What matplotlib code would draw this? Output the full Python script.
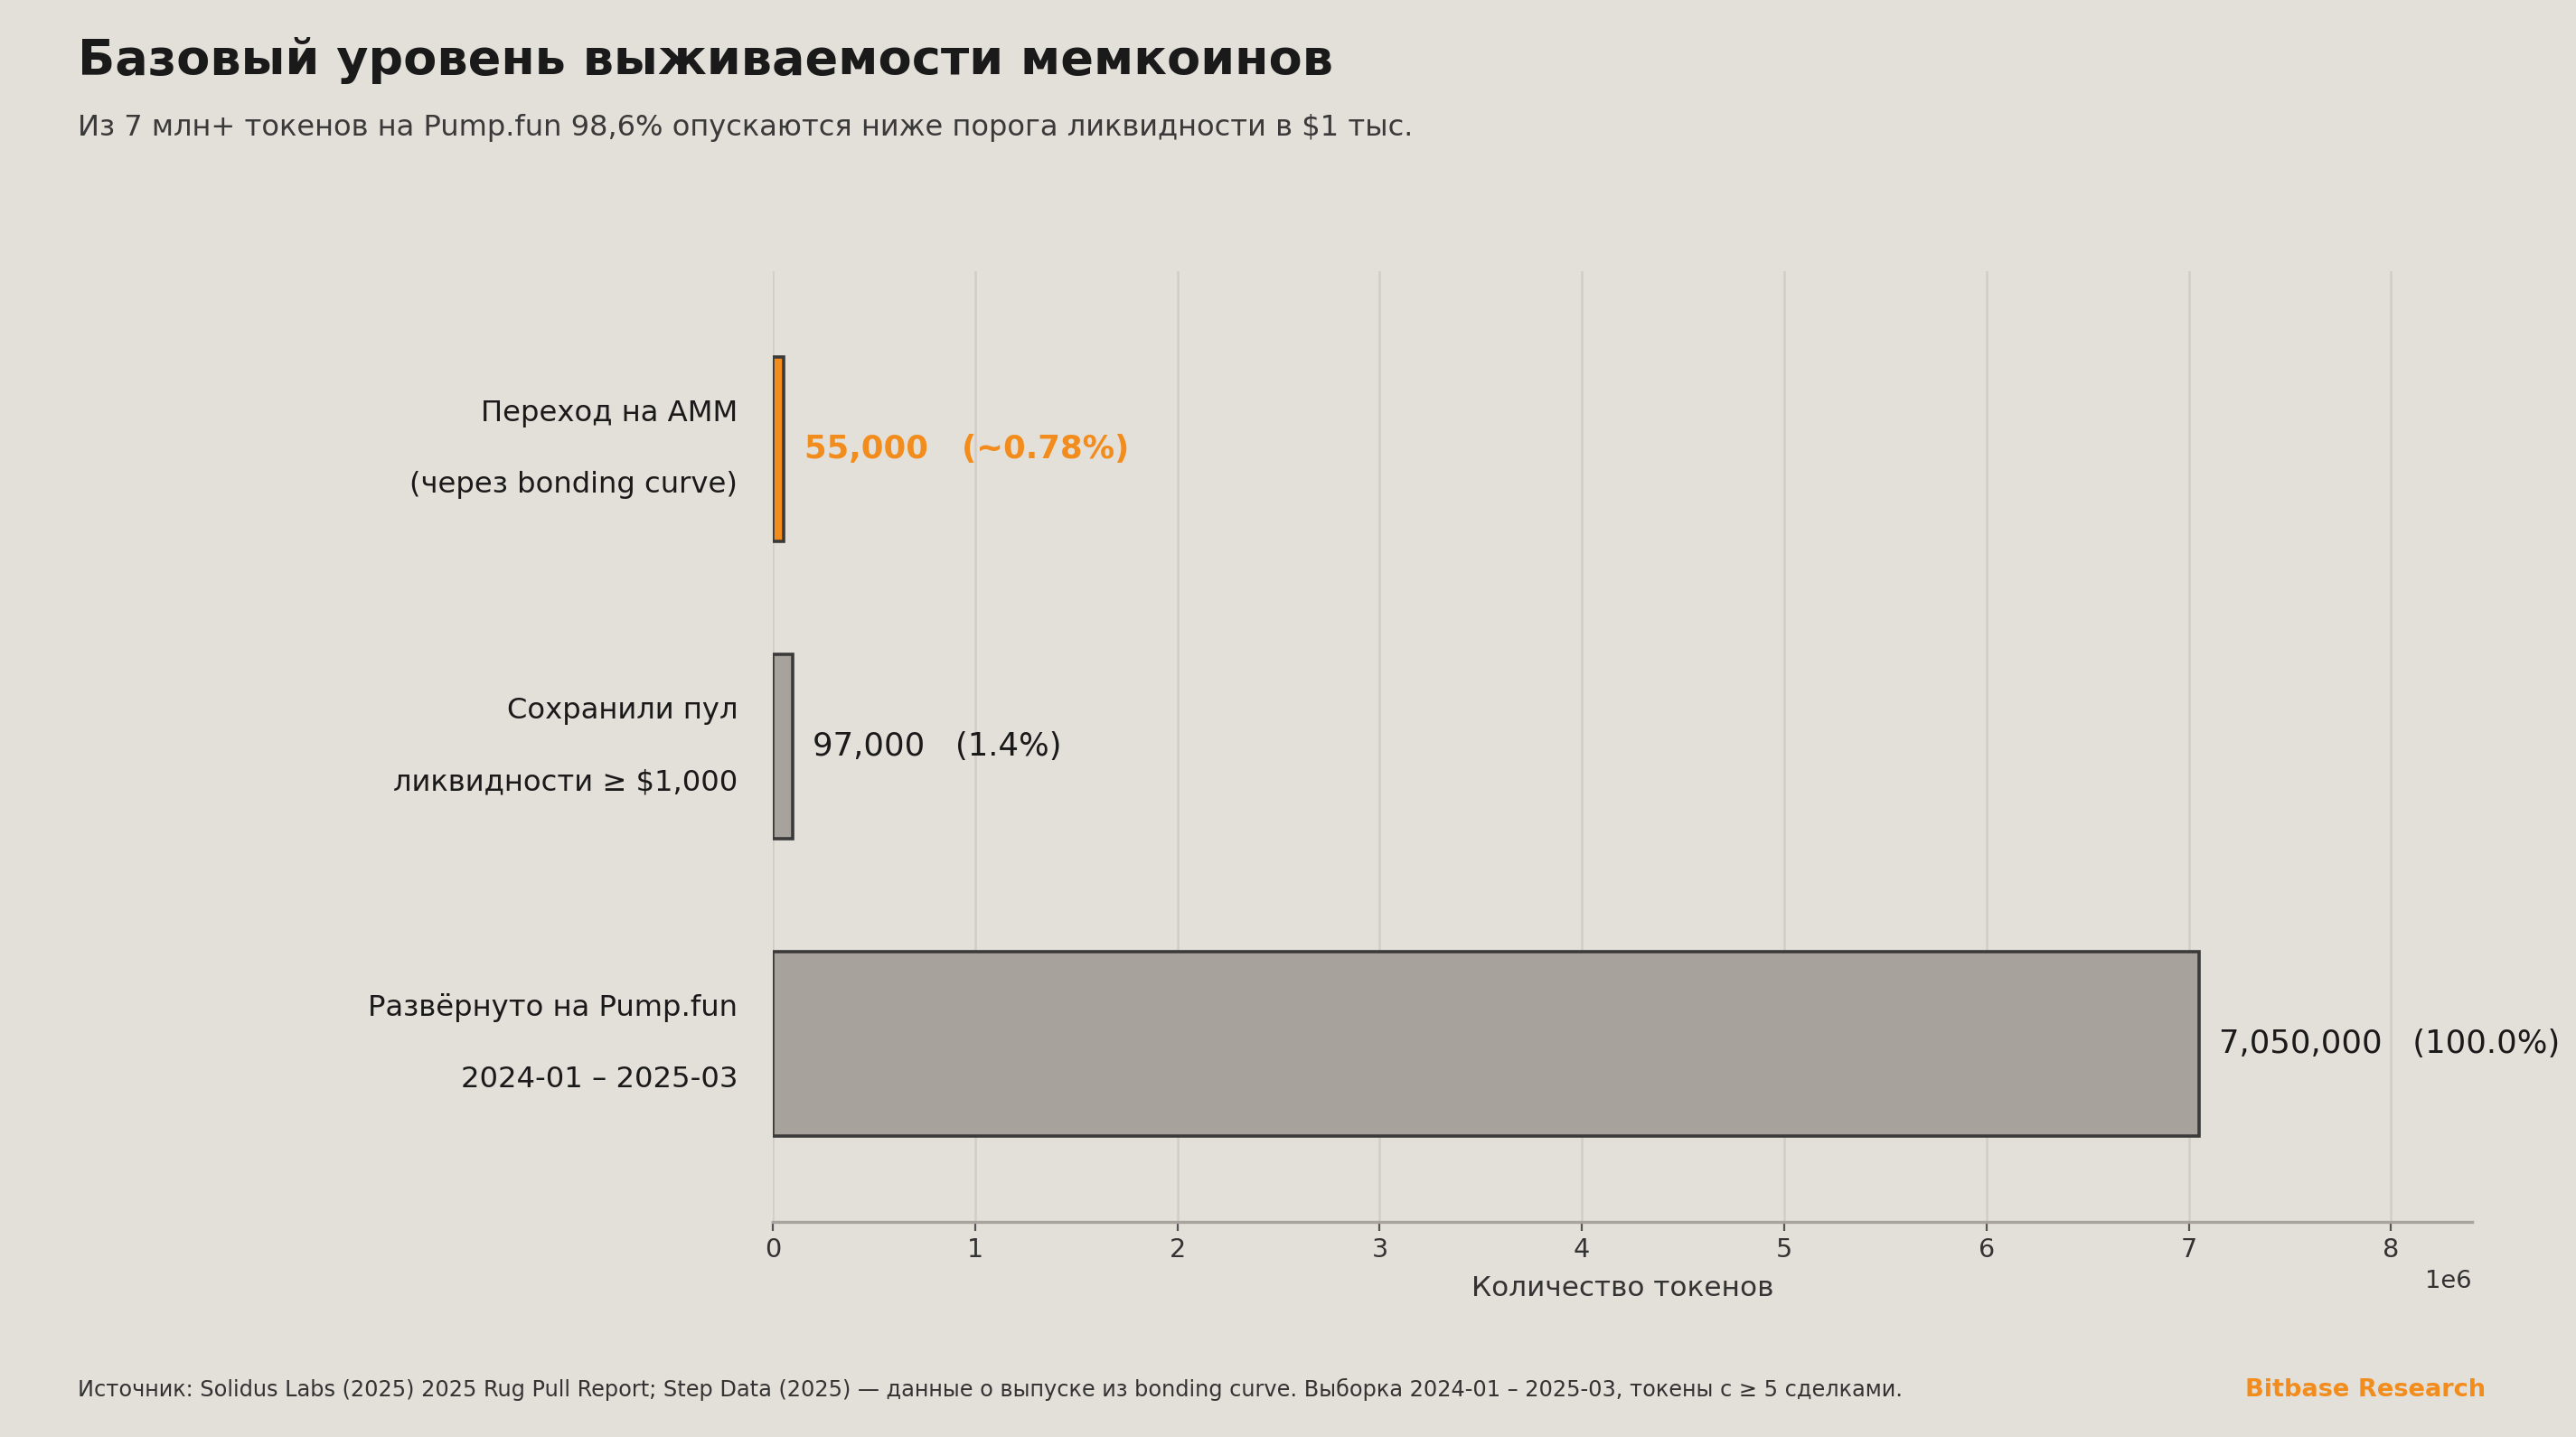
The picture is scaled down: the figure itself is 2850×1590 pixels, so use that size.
import matplotlib
matplotlib.use("Agg")
import matplotlib.pyplot as plt
import numpy as np

# data
labels = ["Развёрнуто на Pump.fun\n2024-01 – 2025-03",
          "Сохранили пул\nликвидности ≥ $1,000",
          "Переход на AMM\n(через bonding curve)"]
values = [7_050_000, 97_000, 55_000]
pct_text = ["(100.0%)", "(1.4%)", "(~0.78%)"]

bg = "#e3dfd9"
c_gray = "#a7a29b"
c_orange = "#f28c1c"
c_edge = "#3a3a3a"

plt.rcParams['font.family'] = ['DejaVu Sans']

fig = plt.figure(figsize=(14.25, 7.95), dpi=200, facecolor=bg)
ax = fig.add_axes([0.300, 0.1497, 0.6596, 0.6616], facecolor=bg)

colors = [c_gray, c_gray, c_orange]
y = np.arange(len(values))
ax.barh(y, values, height=0.62, color=colors, edgecolor=c_edge, linewidth=1.3, zorder=3)

for i, (v, p) in enumerate(zip(values, pct_text)):
    hl = (i == 2)
    ax.text(v + 1e5, i, f"{v:,}   {p}", va="center", ha="left",
            fontsize=12.8, color=c_orange if hl else "#1a1a1a",
            fontweight="bold" if hl else "normal", zorder=4)

ax.set_yticks(y)
ax.set_yticklabels(labels, fontsize=11.6, color="#1a1a1a", linespacing=3.0)
for lab in ax.get_yticklabels():
    lab.set_va("center")
ax.tick_params(axis="y", length=0, pad=14)
ax.tick_params(axis="x", labelsize=10.3, colors="#333333", length=3.5, pad=2.5,
               color="#555555")

ax.set_xlim(0, 8.4e6)
ax.set_ylim(-0.6, 2.6)
ax.xaxis.grid(True, color="#d2cdc6", linewidth=0.9, zorder=0)
ax.set_axisbelow(True)
for s in ["top", "right", "left"]:
    ax.spines[s].set_visible(False)
ax.spines["bottom"].set_color("#a8a39c")
ax.spines["bottom"].set_linewidth(1.2)
ax.xaxis.get_offset_text().set_fontsize(9.8)
ax.xaxis.get_offset_text().set_color("#333333")
ax.set_xlabel("Количество токенов", fontsize=11.2, color="#333333", labelpad=5)

fig.text(0.030, 0.958, "Базовый уровень выживаемости мемкоинов", fontsize=19.5,
         fontweight="bold", color="#1a1a1a", va="center", ha="left")
fig.text(0.030, 0.911, "Из 7 млн+ токенов на Pump.fun 98,6% опускаются ниже порога ликвидности в $1 тыс.",
         fontsize=11.55, color="#3a3a3a", va="center", ha="left")
fig.text(0.030, 0.033, "Источник: Solidus Labs (2025) 2025 Rug Pull Report; Step Data (2025) — данные о выпуске из bonding curve. Выборка 2024-01 – 2025-03, токены с ≥ 5 сделками.",
         fontsize=8.65, color="#333333", va="center", ha="left")
fig.text(0.965, 0.033, "Bitbase Research", fontsize=9.8, fontweight="bold",
         color=c_orange, va="center", ha="right")

fig.savefig("out.png", dpi=200, facecolor=bg)
